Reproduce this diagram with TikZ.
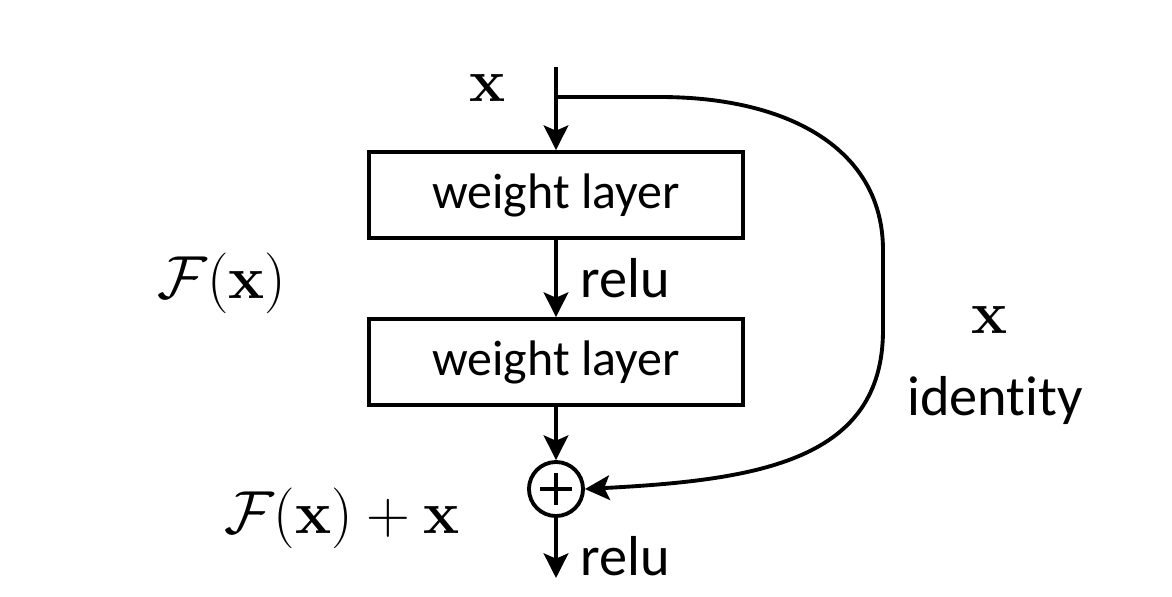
\documentclass[tikz,border=0pt]{standalone}
\usepackage{amsmath}
\usepackage[no-math]{fontspec}
\newfontfamily\labelfont[Ligatures=NoCommon]{Carlito}
\usetikzlibrary{arrows.meta}

\begin{document}
\begin{tikzpicture}[x=0.01cm, y=-0.01cm, line width=1.1pt,
                    >={Stealth[length=7pt, width=7pt, inset=1.5pt]},
                    layer/.style={draw, minimum width=3.73cm, minimum height=0.86cm,
                                  font=\labelfont\fontsize{14.2}{16}\selectfont},
                    txt/.style={font=\labelfont\fontsize{16}{18}\selectfont},
                    sym/.style={font=\fontsize{18}{20}\selectfont},
                    adder/.style={circle, draw, minimum size=0.54cm, inner sep=0pt,
                                  path picture={
                                    \draw ([xshift=-4.5pt]path picture bounding box.center)
                                       -- ([xshift=4.5pt]path picture bounding box.center);
                                    \draw ([yshift=-4.5pt]path picture bounding box.center)
                                       -- ([yshift=4.5pt]path picture bounding box.center);}}]
      \useasboundingbox (0,0) rectangle (1172,596);

      \coordinate (in) at (556,67);
      \coordinate (split) at (556,97);
      \node[layer] (w1) at (556,195) {weight layer};
      \node[layer] (w2) at (556,362) {weight layer};
      \node[adder] (add) at (556,489) {};
      \coordinate (out) at (556,578);

      \draw[->] (in) -- (w1);
      \draw[->] (w1) -- node[right=3pt, txt] (relu1) {relu} (w2);
      \draw[->] (w2) -- (add);
      \draw[->] (add) -- node[right=3pt, txt, yshift=-0.08cm] (relu2) {relu} (out);

      % shortcut
      \draw[->] (split) -- (660,97) .. controls (790,97) and (883,150) .. (883,250)
                -- (883,330) .. controls (883,460) and (760,480) .. (add.east);

      \node[sym] (xin) at (488,88) {$\mathbf{x}$};
      \node[sym] (fx) at (222,283) {$\mathcal{F}(\mathbf{x})$};
      \node[sym] (fxx) at (342,518) {$\mathcal{F}(\mathbf{x})+\mathbf{x}$};
      \node[sym] (xid) at (990,320) {$\mathbf{x}$};
      \node[txt] (ident) at (995,400) {identity};
    \end{tikzpicture}
\end{document}
